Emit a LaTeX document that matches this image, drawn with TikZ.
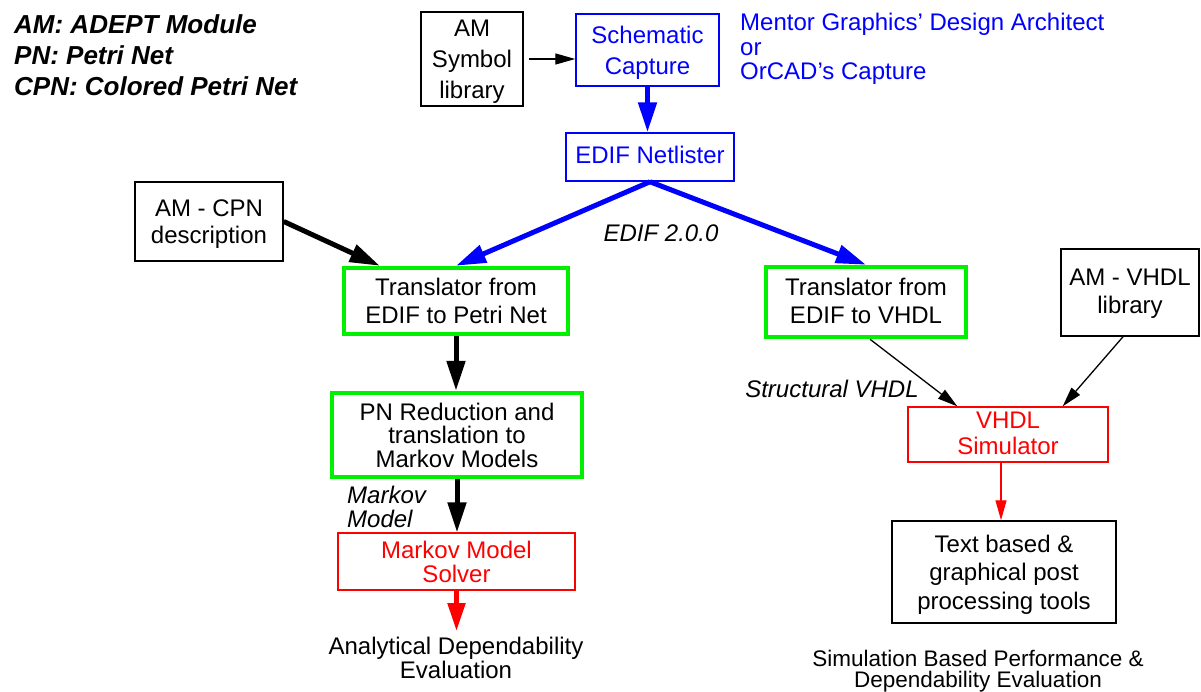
\documentclass[tikz,border=0pt]{standalone}
\usepackage{fontspec}
\setmainfont{Liberation Sans}
\usetikzlibrary{arrows.meta}
\definecolor{fmblue}{RGB}{0,0,255}
\definecolor{fmgreen}{RGB}{0,240,0}
\definecolor{fmred}{RGB}{255,0,0}
\newcommand\fsz[1]{\fontsize{24}{#1}\selectfont}

\begin{document}
\begin{tikzpicture}[x=1pt,y=-1pt,
  txt/.style={align=center, inner sep=0pt, text depth=0pt},
  plainbox/.style={txt, draw=black, line width=1.5pt},
  bluebox/.style={txt, draw=fmblue, text=fmblue, line width=1.5pt},
  greenbox/.style={txt, draw=fmgreen, line width=4.5pt},
  redbox/.style={txt, draw=fmred, text=fmred, line width=1.3pt},
  thinarrow/.style={draw=black, line width=1.3pt, -{Triangle[length=20pt,width=11pt]}},
  redthin/.style={draw=fmred, line width=1.3pt, -{Triangle[length=20pt,width=11pt]}},
  bluethick/.style={draw=fmblue, line width=5pt, -{Triangle[length=30pt,width=18pt]}},
  blackthick/.style={draw=black, line width=5pt, -{Triangle[length=30pt,width=18pt]}},
  redthick/.style={draw=fmred, line width=5pt, -{Triangle[length=28pt,width=17pt]}}]
\useasboundingbox (0,0) rectangle (1201,691);

% abbreviations
\node[inner sep=0pt, anchor=north west, align=left,
      font=\fontsize{26}{31}\selectfont\bfseries\itshape] (legend) at (14,14)
  {AM: ADEPT Module\\PN: Petri Net\\CPN: Colored Petri Net};

% schematic entry
\node[plainbox, font=\fsz{31}, minimum width=102pt, minimum height=94pt] (sym) at (472,59) {AM\\Symbol\\library};
\node[bluebox, font=\fsz{31}, minimum width=143pt, minimum height=72pt, text depth=-4pt] (sch) at (647.5,50) {Schematic\\Capture};
\node[txt, anchor=north west, align=left, text=fmblue, font=\fsz{24.5}] (tools) at (740,13)
  {Mentor Graphics’ Design Architect\\or\\OrCAD’s Capture};
\node[bluebox, font=\fsz{28}, minimum width=168pt, minimum height=48pt, text depth=5pt] (net) at (650,157) {EDIF Netlister};

% analytical branch
\node[plainbox, font=\fsz{27}, minimum width=148pt, minimum height=79pt, text depth=-6pt] (cpn) at (209,221.5) {AM - CPN\\description};
\node[greenbox, font=\fsz{27.5}, minimum width=224pt, minimum height=66pt] (tpn) at (456,301) {Translator from\\EDIF to Petri Net};
\node[greenbox, font=\fsz{23.5}, minimum width=250pt, minimum height=84pt] (pnr) at (457,435) {PN Reduction and\\translation to\\Markov Models};
\node[redbox, font=\fsz{24}, minimum width=237pt, minimum height=57pt, text depth=-5pt] (mms) at (456.5,561.5) {Markov Model\\Solver};
\node[txt, font=\fsz{24}] (ana) at (456,658) {Analytical Dependability\\Evaluation};
\node[txt, anchor=north west, align=left, font=\fsz{24}\itshape] (mml) at (347,486) {Markov\\Model};

% simulation branch
\node[txt, font=\fsz{24}\itshape] (edif) at (661,233) {EDIF 2.0.0};
\node[greenbox, font=\fsz{28}, minimum width=200pt, minimum height=70pt, text depth=3pt] (tvh) at (866,302) {Translator from\\EDIF to VHDL};
\node[plainbox, font=\fsz{28}, minimum width=138pt, minimum height=87pt, text depth=3pt] (avh) at (1130,292.5) {AM - VHDL\\library};
\node[txt, font=\fsz{24}\itshape] (svh) at (832,389) {Structural VHDL};
\node[redbox, font=\fsz{26}, minimum width=200pt, minimum height=55pt, text depth=3pt] (sim) at (1008,434.5) {VHDL\\Simulator};
\node[plainbox, font=\fsz{28.5}, minimum width=224pt, minimum height=102pt, text depth=-6pt] (post) at (1004,572) {Text based \&\\graphical post\\processing tools};
\node[txt, font=\fontsize{22.5}{21.5}\selectfont] (sbe) at (978,669) {Simulation Based Performance \&\\Dependability Evaluation};

% connectors
\draw[thinarrow] ([xshift=5pt]sym.east) -- (sch.west |- sym.east);
\draw[bluethick] (sch.south) -- (sch.south |- net.north);
\draw[bluethick] (net.south) -- (tpn.north);
\draw[bluethick] (net.south) -- (tvh.north);
\draw[blackthick] (cpn.east) -- ([xshift=38pt]tpn.north west);
\draw[blackthick] (tpn.south) -- (tpn.south |- pnr.north);
\draw[blackthick] (pnr.south) -- (pnr.south |- mms.north);
\draw[redthick] (mms.south) -- ([yshift=6pt]mms.south |- ana.north);
\draw[thinarrow] ([xshift=4pt]tvh.south) -- ([xshift=50pt]sim.north west);
\draw[thinarrow] ([xshift=-7pt]avh.south) -- ([xshift=-46pt]sim.north east);
\draw[redthin] ([xshift=-7pt]sim.south) -- ([xshift=-7pt]sim.south |- post.north);
\end{tikzpicture}
\end{document}
